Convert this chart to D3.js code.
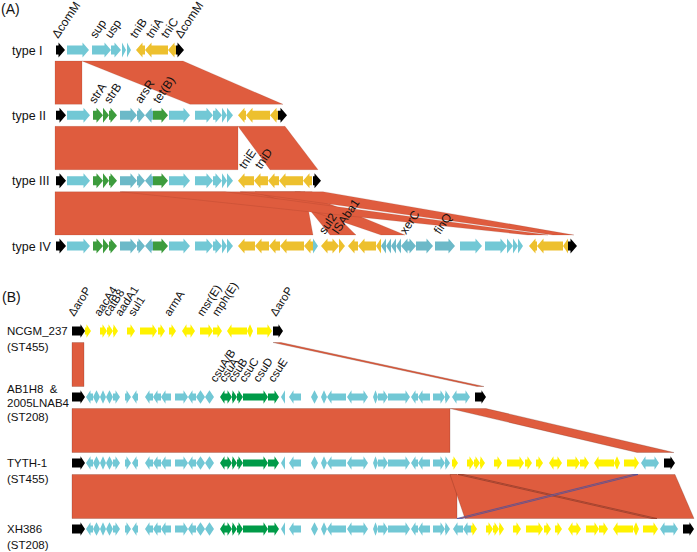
<!DOCTYPE html>
<html><head><meta charset="utf-8">
<script src="https://cdn.jsdelivr.net/npm/d3@7"></script>
<style>body{margin:0;background:#fff}svg{display:block}text{font-family:Arial,"Liberation Sans",sans-serif;fill:#111}</style>
</head><body><svg id="c" width="697" height="552"></svg>
<script>
// ---------------- DATA ----------------
// gene = [start, end, strand(1 right,-1 left,0 both), class]
const rowsA = ["type I", "type II", "type III", "type IV"];
const genesTypeI = [[56,65,1,"k"],[67,89,1,"c"],[92,111,1,"c"],[111,121,1,"c"],[122,126,1,"c"],[127,131,1,"c"],
  [136,145,-1,"y"],[145,168,-1,"y"],[168,176,-1,"y"],[176,184,1,"k"]];
const backboneA = [[56,66,1,"k"],[67,90,1,"c"],[93,103,1,"g"],[103,109,1,"g"],[109,117,1,"g"],
  [120,137,1,"s"],[137,145,1,"s"],[145,153,-1,"s"],[153,168,1,"g"],[169,190,1,"c"],
  [195,213,1,"c"],[213,222,1,"c"],[222,227,1,"c"],[227,233,1,"c"]];
const tailTypeII = [[238,246,-1,"y"],[246,270,-1,"y"],[270,278,-1,"y"],[278,287,1,"k"]];
const tailTypeIII = [[238,254,-1,"y"],[254,268,-1,"y"],[268,279,-1,"y"],[279,303,-1,"y"],[303,312,-1,"y"],[313,321,1,"k"]];
const tailTypeIV = [[238,255,-1,"y"],[255,269,-1,"y"],[269,280,-1,"y"],[280,304,-1,"y"],[304,313,-1,"y"],
  [313,318,1,"c"],[321,332,-1,"y"],[332,339,1,"y"],[339,345,1,"y"],
  [348,358,-1,"y"],[358,376,-1,"y"],[376,381,-1,"y"],
  [381,386,-1,"s"],[386,391,-1,"s"],[391,396,-1,"s"],[396,401,-1,"s"],
  [401,416,0,"s"],[416,433,1,"s"],[435,455,1,"s"],[460,482,1,"c"],
  [485,507,1,"c"],[507,513,1,"c"],[513,518,1,"c"],[518,523,1,"c"],
  [529,537,-1,"y"],[537,563,-1,"y"],[563,568,-1,"y"],[568,577,1,"k"]];
const labelsA = [["type I","ΔcomM",58],["type I","sup",96],["type I","usp",111],["type I","tniB",136],
  ["type I","tniA",152],["type I","tniC",167],["type I","ΔcomM",181],
  ["type II","strA",95],["type II","strB",110],["type II","arsR",141],["type II","tet(B)",159],
  ["type III","tniE",245],["type III","tniD",261],
  ["type IV","sul2",325],["type IV","ISAba1",338],["type IV","xerC",406],["type IV","finQ",440]];
// links = [fromRow, toRow, top0, top1, bottom0, bottom1]
const linksA = [["type I","type II",55,82,55,82],["type I","type II",82,183,190,283],
  ["type II","type III",55,238,55,238],["type II","type III",238,285,270,318],
  ["type III","type IV",55,305,55,313],["type III","type IV",295,312,330,356],
  ["type III","type IV",255,300,381,405],["type III","type IV",120,225,528,548],
  ["type III","type IV",240,323,553,574]];

const rowsB = ["NCGM_237", "AB1H8", "TYTH-1", "XH386"];
const rowTextB = [["NCGM_237","(ST455)"],["AB1H8  &","2005LNAB4","(ST208)"],["TYTH-1","(ST455)"],["XH386","(ST208)"]];
const startB = [[72,85,1,"k"]];
const islandNCGM = [[85,91,1,"Y"],[100,107,1,"Y"],[107,113,1,"Y"],[113,118,1,"Y"],[127,135,1,"Y"],[140,157,1,"Y"],
  [158,165,1,"Y"],[169,176,1,"Y"],[182,195,0,"Y"],[200,213,1,"Y"],[213,222,1,"Y"],[227,247,-1,"Y"],
  [247,253,0,"Y"],[257,272,1,"Y"]];
const endNCGM = [[273,283,1,"k"]];
const backboneB = [[86,93,-1,"c"],[93,100,0,"c"],[100,106,0,"c"],[106,113,0,"c"],[113,120,1,"c"],
  [125,131,1,"c"],[132,138,-1,"c"],[145,153,-1,"c"],[153,161,-1,"c"],[161,171,-1,"c"],
  [175,188,1,"c"],[188,196,-1,"c"],[196,205,0,"c"],[205,214,0,"c"],
  [220,226,-1,"G"],[226,232,1,"G"],[232,237,1,"G"],[237,243,1,"G"],[243,268,1,"G"],[268,279,1,"G"],
  [281,285,-1,"c"],[289,301,-1,"c"],[311,318,0,"c"],[321,327,0,"c"],[327,346,-1,"c"],[347,368,0,"c"],
  [373,378,0,"c"],[378,388,1,"c"],[388,410,1,"c"],[411,418,-1,"c"],[418,430,-1,"c"],
  [433,445,1,"c"],[445,450,1,"c"]];
const extraXH386 = [[453,463,-1,"c"],[463,471,-1,"c"]];
const tailB = [[452,470,0,"c"],[475,486,1,"k"]];
// row = list of [segment, offset]
const compB = {
  "NCGM_237": [["startB",0],["islandNCGM",0],["endNCGM",0]],
  "AB1H8": [["startB",0],["backboneB",0],["tailB",0]],
  "TYTH-1": [["startB",0],["backboneB",0],["islandNCGM",367],["tailB",189]],
  "XH386": [["startB",0],["backboneB",0],["extraXH386",0],["islandNCGM",386],["tailB",208]]
};
const labelsB = [["NCGM_237","ΔaroP",74],["NCGM_237","aacA4",100],["NCGM_237","catB8",109],
  ["NCGM_237","aadA1",121],["NCGM_237","sul1",134],["NCGM_237","armA",170],["NCGM_237","msr(E)",203],
  ["NCGM_237","mph(E)",218],["NCGM_237","ΔaroP",276],
  ["AB1H8","csuA/B",216],["AB1H8","csuA",225],["AB1H8","csuB",234],["AB1H8","csuC",245],
  ["AB1H8","csuD",259],["AB1H8","csuE",274]];
const linksB = [["NCGM_237","AB1H8",72,84,72,84],["NCGM_237","AB1H8",273,281,477,484],
  ["AB1H8","TYTH-1",72,450,72,450],["AB1H8","TYTH-1",450,486,637,674],
  ["TYTH-1","XH386",72,457,72,457],["TYTH-1","XH386",450,675,465,694]];
const crossLinksB = [["TYTH-1","XH386",458,463,652,657],["TYTH-1","XH386",633,638,457,462]];

// ---------------- DRAW ----------------
const svg = d3.select("#c");
const x = d3.scaleLinear().domain([0, 697]).range([0, 697]);
const yA = d3.scalePoint().domain(rowsA).range([50, 246]);
const yB = d3.scalePoint().domain(rowsB).range([331, 529]);
const color = {k:"#000000", c:"#72c8d5", s:"#6cb9c8", g:"#3d9c3d", y:"#edc02e", Y:"#fff200", G:"#009b48"};
const ribbon = "#df5c3e";

function arrowPath(g, yc, d) {
  const [s, e, str, cl] = g;
  const x0 = x(s), x1 = x(e), L = x1 - x0;
  const bh = cl === "k" ? d.kb : d.bh, hh = d.hh;
  const hl = Math.min(d.hl, str === 0 ? L / 2 : L);
  let p;
  if (str === 1) p = [[x0,yc-bh],[x1-hl,yc-bh],[x1-hl,yc-hh],[x1,yc],[x1-hl,yc+hh],[x1-hl,yc+bh],[x0,yc+bh]];
  else if (str === -1) p = [[x1,yc-bh],[x0+hl,yc-bh],[x0+hl,yc-hh],[x0,yc],[x0+hl,yc+hh],[x0+hl,yc+bh],[x1,yc+bh]];
  else p = [[x0,yc],[x0+hl,yc-hh],[x0+hl,yc-bh],[x1-hl,yc-bh],[x1-hl,yc-hh],[x1,yc],[x1-hl,yc+hh],[x1-hl,yc+bh],[x0+hl,yc+bh],[x0+hl,yc+hh]];
  return "M" + p.map(q => q[0].toFixed(2) + "," + q[1].toFixed(2)).join("L") + "Z";
}
function linkPath(l, ys, dt, db) {
  const yt = ys(l[0]) + dt, yb = ys(l[1]) - db;
  return `M${x(l[2])},${yt}L${x(l[3])},${yt}L${x(l[5])},${yb}L${x(l[4])},${yb}Z`;
}

// ribbons
svg.append("g").selectAll("path").data(linksA).join("path")
  .attr("d", l => linkPath(l, yA, 11, 11)).attr("fill", ribbon)
  .attr("stroke", "rgba(120,40,25,0.3)").attr("stroke-width", 0.5);
svg.append("g").selectAll("path").data(linksB).join("path")
  .attr("d", l => linkPath(l, yB, 11.5, 10.5)).attr("fill", ribbon)
  .attr("stroke", "rgba(90,30,20,0.45)").attr("stroke-width", 0.5);
svg.append("g").selectAll("path").data(crossLinksB).join("path")
  .attr("d", l => linkPath(l, yB, 11.5, 10.5)).attr("fill", ribbon)
  .attr("stroke", (l, i) => i === 1 ? "#3a4fa8" : "#8a3a2a").attr("stroke-width", 0.7);

// genes
const dimsA = {bh:4.5, kb:4.5, hh:7.5, hl:6.5};
const dimsB = {bh:3.6, kb:4.5, hh:6.8, hl:4.5};
const rowGenesA = {"type I": genesTypeI, "type II": backboneA.concat(tailTypeII),
  "type III": backboneA.concat(tailTypeIII), "type IV": backboneA.concat(tailTypeIV)};
const segB = {startB, islandNCGM, endNCGM, backboneB, extraXH386, tailB};
const rowGenesB = {};
rowsB.forEach(r => { rowGenesB[r] = compB[r].flatMap(([n, off]) => segB[n].map(g => [g[0]+off, g[1]+off, g[2], g[3]])); });

rowsA.forEach(r => {
  svg.append("g").selectAll("path").data(rowGenesA[r]).join("path")
    .attr("d", g => arrowPath(g, yA(r), dimsA)).attr("fill", g => color[g[3]]);
});
rowsB.forEach(r => {
  svg.append("g").selectAll("path").data(rowGenesB[r]).join("path")
    .attr("d", g => arrowPath(g, yB(r), dimsB)).attr("fill", g => color[g[3]]);
});

// gene labels
svg.append("g").selectAll("text").data(labelsA).join("text")
  .attr("transform", l => `translate(${x(l[2])},${yA(l[0]) - 11}) rotate(-56)`)
  .attr("font-size", 12).text(l => l[1]);
svg.append("g").selectAll("text").data(labelsB).join("text")
  .attr("transform", l => `translate(${x(l[2])},${yB(l[0]) - 14}) rotate(-57)`)
  .attr("font-size", 11.5).text(l => l[1]);

// row labels
svg.append("g").selectAll("text").data(rowsA).join("text")
  .attr("x", 12).attr("y", r => yA(r) + 4.5).attr("font-size", 12.5).text(r => r);
rowsB.forEach((r, i) => {
  const lines = rowTextB[i];
  const sp = lines.length === 3 ? 14 : 16;
  const y0 = lines.length === 3 ? yB(r) - 4 : yB(r) + 4;
  svg.append("g").selectAll("text").data(lines).join("text")
    .attr("x", 7).attr("y", (t, j) => y0 + j * sp).attr("font-size", 11.5)
    .style("white-space", "pre").text(t => t);
});

svg.append("text").attr("x", 1).attr("y", 14).attr("font-size", 14).text("(A)");
svg.append("text").attr("x", 2).attr("y", 302).attr("font-size", 14).text("(B)");
</script></body></html>
